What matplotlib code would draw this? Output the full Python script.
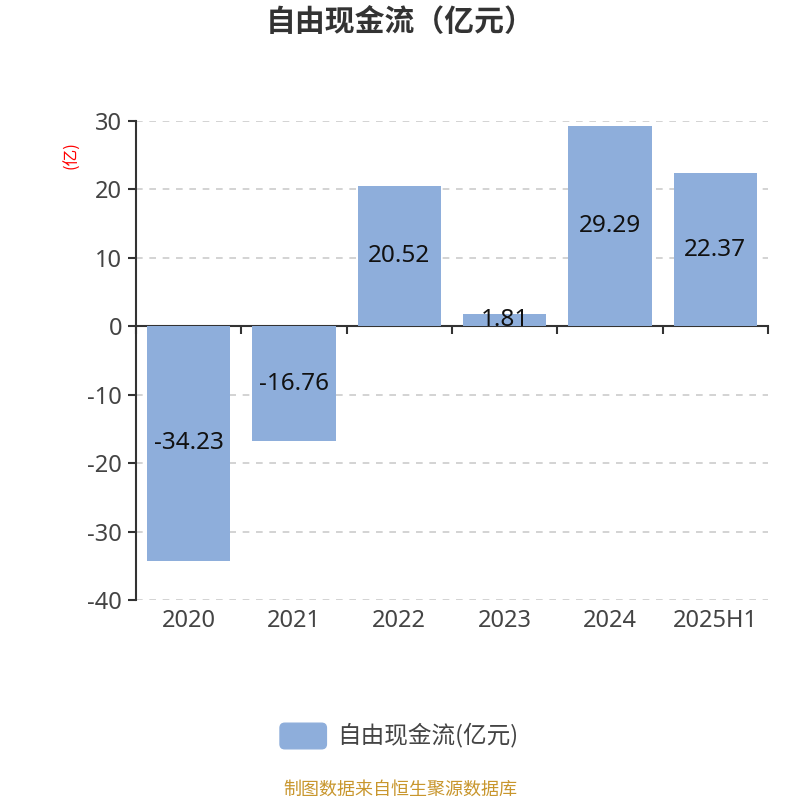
import matplotlib.pyplot as plt
from matplotlib.patches import FancyBboxPatch

plt.rcParams['font.family'] = ['Noto Sans CJK SC', 'DejaVu Sans']
num_font = ['Noto Sans', 'DejaVu Sans']

years = ['2020', '2021', '2022', '2023', '2024', '2025H1']
values = [-34.23, -16.76, 20.52, 1.81, 29.29, 22.37]
yticks = [30, 20, 10, 0, -10, -20, -30, -40]

bar_color = '#8eaedb'

fig = plt.figure(figsize=(8, 8), dpi=100)
ax = fig.add_axes([0.17, 0.25, 0.79, 0.599])

x = range(len(years))
ax.bar(x, values, width=0.79, color=bar_color, zorder=3)
for i, v in enumerate(values):
    ax.text(i, v / 2, f'{v:.2f}', ha='center', va='center', fontsize=17.5,
            color='#111111', zorder=4, family=num_font)

ax.set_xlim(-0.5, len(years) - 0.5)
ax.set_ylim(-40, 30)
ax.set_yticks(yticks)
ax.set_yticklabels([str(t) for t in yticks], fontsize=17, color='#444444',
                   family=num_font)
for t in yticks:
    if t != 0:
        ax.axhline(t, color='#cccccc', linestyle=(0, (4, 4)), linewidth=1.2, zorder=1)

ax.spines['top'].set_visible(False)
ax.spines['right'].set_visible(False)
ax.spines['bottom'].set_position(('data', 0))
ax.spines['bottom'].set_color('#333333')
ax.spines['bottom'].set_linewidth(1.5)
ax.spines['left'].set_color('#333333')
ax.spines['left'].set_linewidth(1.5)
ax.tick_params(axis='y', length=6, width=1.5, color='#333333', pad=4)

ax.set_xticks([i - 0.5 for i in range(len(years) + 1)], minor=False)
ax.set_xticklabels([])
ax.tick_params(axis='x', length=6, width=1.5, color='#333333', direction='out')
for i, y in enumerate(years):
    ax.text(i, -41.3, y, ha='center', va='top', fontsize=17, color='#444444',
            family=num_font)

ax.text(-0.101, 0.929, '(亿)', transform=ax.transAxes, rotation=90, color='red',
        fontsize=12, ha='center', va='center')

fig.text(0.5, 0.972, '自由现金流（亿元）', ha='center', va='center', fontsize=21.5,
         fontweight='bold', color='#333333')

patch = FancyBboxPatch((0.35, 0.064), 0.058, 0.032, boxstyle='round,pad=0,rounding_size=0.006',
                       transform=fig.transFigure, color=bar_color)
fig.patches.append(patch)
fig.text(0.422, 0.081, '自由现金流(亿元)', ha='left', va='center', fontsize=17, color='#444444')

fig.text(0.5, 0.0125, '制图数据来自恒生聚源数据库', ha='center', va='center', fontsize=13,
         color='#c8962d')

fig.savefig('out.png')
